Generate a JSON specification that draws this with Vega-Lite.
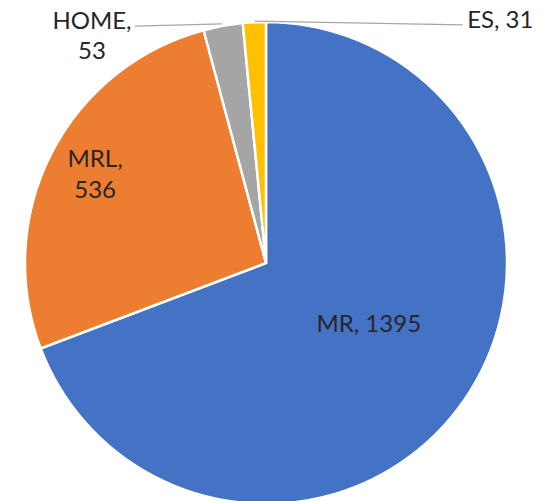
{
  "$schema": "https://vega.github.io/schema/vega-lite/v6.json",
  "width": 532,
  "height": 526,
  "autosize": {"type": "none"},
  "padding": 0,
  "background": "white",
  "config": {"view": {"stroke": null}, "text": {"font": "Lato"}},
  "data": {
    "values": [
      {"cat": "MR", "value": 1395},
      {"cat": "MRL", "value": 536},
      {"cat": "HOME", "value": 53},
      {"cat": "ES", "value": 31}
    ]
  },
  "layer": [
    {
      "mark": {"type": "arc", "outerRadius": 241, "stroke": "white", "strokeWidth": 2.5},
      "encoding": {
        "theta": {"field": "value", "type": "quantitative", "stack": true},
        "order": {"field": "value", "type": "quantitative", "sort": "descending"},
        "color": {
          "field": "cat",
          "type": "nominal",
          "scale": {"domain": ["MR", "MRL", "HOME", "ES"], "range": ["#4472C4", "#ED7D31", "#A5A5A5", "#FFC000"]},
          "legend": null
        }
      }
    },
    {
      "transform": [
        {"calculate": "datum.cat === 'MR' ? datum.cat + ', ' + datum.value : ''", "as": "label"}
      ],
      "mark": {"type": "text", "radius": 120, "dx": 4, "dy": -6, "fontSize": 24, "color": "#262626", "align": "center", "baseline": "middle"},
      "encoding": {
        "theta": {"field": "value", "type": "quantitative", "stack": true},
        "order": {"field": "value", "type": "quantitative", "sort": "descending"},
        "text": {"field": "label"}
      }
    },
    {
      "transform": [
        {"calculate": "datum.cat === 'MRL' ? datum.cat + ',\\n' + datum.value : ''", "as": "label"}
      ],
      "mark": {"type": "text", "radius": 192, "dy": -16, "fontSize": 24, "lineHeight": 31, "lineBreak": "\n", "color": "#262626", "align": "center", "baseline": "middle"},
      "encoding": {
        "theta": {"field": "value", "type": "quantitative", "stack": true},
        "order": {"field": "value", "type": "quantitative", "sort": "descending"},
        "text": {"field": "label"}
      }
    },
    {
      "transform": [
        {"calculate": "datum.cat === 'HOME' ? datum.cat + ',\\n' + datum.value : ''", "as": "label"}
      ],
      "mark": {"type": "text", "radius": 230, "dx": -133, "dy": -15, "fontSize": 24, "lineHeight": 30, "lineBreak": "\n", "color": "#262626", "align": "center", "baseline": "middle"},
      "encoding": {
        "theta": {"field": "value", "type": "quantitative", "stack": true},
        "order": {"field": "value", "type": "quantitative", "sort": "descending"},
        "text": {"field": "label"}
      }
    },
    {
      "transform": [
        {"calculate": "datum.cat === 'ES' ? datum.cat + ', ' + datum.value : ''", "as": "label"}
      ],
      "mark": {"type": "text", "radius": 242, "dx": 246, "fontSize": 24, "color": "#262626", "align": "center", "baseline": "middle"},
      "encoding": {
        "theta": {"field": "value", "type": "quantitative", "stack": true},
        "order": {"field": "value", "type": "quantitative", "sort": "descending"},
        "text": {"field": "label"}
      }
    },
    {
      "data": {"values": [{}]},
      "mark": {"type": "rule", "color": "#A6A6A6", "strokeWidth": 1.2},
      "encoding": {
        "x": {"datum": -0.544, "type": "quantitative", "scale": {"domain": [-1.1037, 1.1037], "nice": false, "zero": false}, "axis": null},
        "y": {"datum": 0.983, "type": "quantitative", "scale": {"domain": [-1.0913, 1.0913], "nice": false, "zero": false}, "axis": null},
        "x2": {"datum": -0.183},
        "y2": {"datum": 0.992}
      }
    },
    {
      "data": {"values": [{}]},
      "mark": {"type": "rule", "color": "#A6A6A6", "strokeWidth": 1.2},
      "encoding": {
        "x": {"datum": -0.046, "type": "quantitative", "axis": null},
        "y": {"datum": 1.004, "type": "quantitative", "axis": null},
        "x2": {"datum": 0.817},
        "y2": {"datum": 0.988}
      }
    }
  ]
}
